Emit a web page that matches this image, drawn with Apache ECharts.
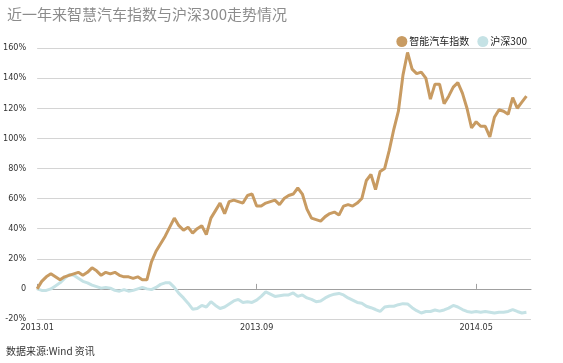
<!DOCTYPE html>
<html>
<head>
<meta charset="utf-8">
<script src="https://cdn.jsdelivr.net/npm/echarts@6/dist/echarts.min.js"></script>
<style>html,body{margin:0;padding:0;background:#fff;}#c{width:563px;height:363px;}</style>
</head>
<body>
<div id="c"></div>
<script>
var titleText = '近一年来智慧汽车指数与沪深300走势情况';
var sourceText = '数据来源:Wind 资讯';
var seriesNames = ['智能汽车指数', '沪深300'];
var tickLabels = ['2013.01', '2013.09', '2014.05'];
var tickIndex = [0, 48, 96];
var categoryCount = 109;

var smartCar = [0,5,8,10,8,6,8,9,10,11,9,11,14,12,9,11,10,11,9,8,
8,7,8,6,6,18,25,30,35,41,47,42,39,41,37,40,42,36,47,52,
57,50,58,59,58,57,62,63,55,55,57,58,59,56,60,62,63,67,63,53,
47,46,45,48,50,51,49,55,56,55,57,60,72,76,66,78,80,92,106,118,
142,157,146,143,144,140,126,136,136,123,128,134,137,130,120,107,111,108,108,101,
114,119,118,116,127,120,124,128];

var hs300 = [0,-1,-1,0,2,4,7,9.5,9,7,5,4,2.5,1.5,0.5,1,0.5,-1,-1.5,-0.5,
-1.5,-1,0,1,0,-0.5,1,3,4,4,1,-3,-6,-9.5,-13.5,-13,-11,-12,-8.5,-11,
-13,-12,-10,-8,-7,-9,-8.5,-9,-7.5,-5,-2,-3.5,-5,-4.5,-4,-4,-2.7,-5,-4,-6,
-7,-8.5,-8,-6,-4.5,-3.5,-3,-4,-6,-7.5,-9,-9.5,-11.5,-12.5,-13.7,-15,-12,-11.5,-11.5,-10.5,
-9.8,-10,-12.5,-14.5,-16,-15,-15,-14,-14.8,-14,-12.8,-11,-12,-13.7,-15,-15.5,-15,-15.5,-15,-15.5,
-16,-15.5,-15.5,-15,-13.7,-15,-16,-15.5];

var categories = [];
for (var i = 0; i < categoryCount; i++) {
  var k = tickIndex.indexOf(i);
  categories.push(k >= 0 ? tickLabels[k] : String(i));
}
function isTick(idx) { return tickIndex.indexOf(idx) >= 0; }

var numFont = '"DejaVu Sans Condensed","Liberation Sans Narrow","Roboto",sans-serif';
var cjkFont = '"Noto Sans CJK SC","Noto Sans",sans-serif';

var chart = echarts.init(document.getElementById('c'), null, {renderer: 'canvas'});
chart.setOption({
  animation: false,
  backgroundColor: '#ffffff',
  title: [
    {text: titleText, left: 2, top: 2,
     textStyle: {fontFamily: cjkFont, fontSize: 15, fontWeight: 'normal', color: '#8c8c8c'}},
    {text: sourceText, left: 1, top: 341,
     textStyle: {fontFamily: cjkFont, fontSize: 10, fontWeight: 'normal', color: '#333'}}
  ],
  legend: {
    data: seriesNames,
    right: 31, top: 31,
    icon: 'circle', itemWidth: 11, itemHeight: 11, itemGap: 8,
    textStyle: {fontFamily: cjkFont, fontSize: 10, color: '#222', padding: [0, 0, 0, -3]}
  },
  grid: {left: 33, right: 32, top: 48, bottom: 44, containLabel: false},
  xAxis: {
    type: 'category',
    data: categories,
    boundaryGap: false,
    axisLine: {show: true, lineStyle: {color: '#a0a0a0', width: 1}},
    axisTick: {show: true, inside: true, length: 5, interval: function (idx) { return isTick(idx); },
               lineStyle: {color: '#a0a0a0'}},
    axisLabel: {interval: function (idx) { return isTick(idx); },
                fontFamily: numFont, fontSize: 9, color: '#333', margin: 4},
    splitLine: {show: false}
  },
  yAxis: {
    type: 'value',
    min: -20, max: 160, interval: 20,
    axisLine: {show: false},
    axisTick: {show: false},
    axisLabel: {fontFamily: numFont, fontSize: 9, color: '#333', margin: 11,
                formatter: function (v) { return v === 0 ? '0' : v + '%'; }},
    splitLine: {show: true, lineStyle: {color: '#d4d4d4', width: 1}}
  },
  series: [
    {name: seriesNames[0], type: 'line', data: smartCar, showSymbol: false, symbol: 'none',
     z: 3, color: '#C89B62', lineStyle: {width: 3, color: '#C89B62'}},
    {name: seriesNames[1], type: 'line', data: hs300, showSymbol: false, symbol: 'none',
     z: 2, color: '#C5E2E5', lineStyle: {width: 3, color: '#C5E2E5'}}
  ]
});
</script>
</body>
</html>
